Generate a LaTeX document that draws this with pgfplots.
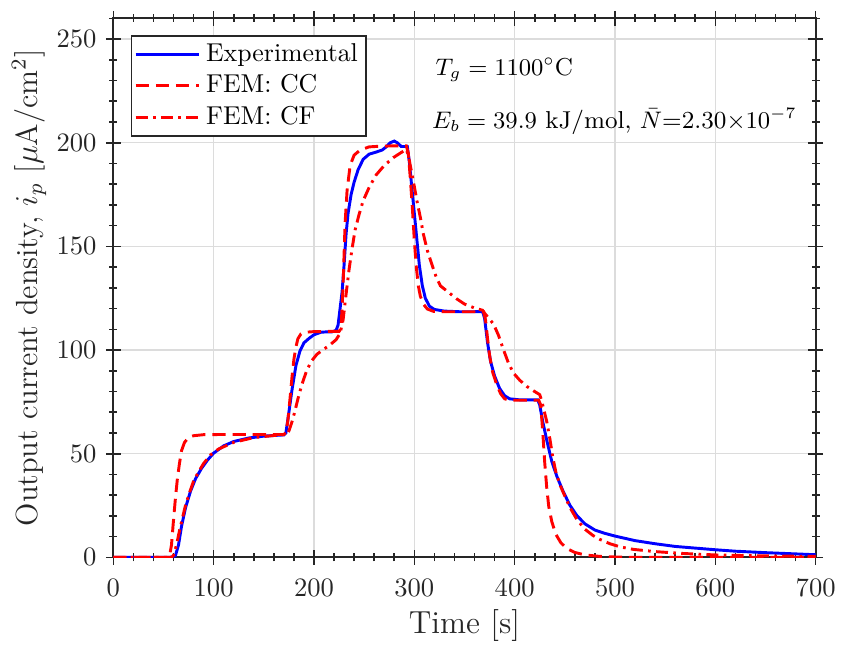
\documentclass[border=0pt]{standalone}
\usepackage{fontspec}
\usepackage{pgfplots}
\pgfplotsset{compat=1.18}
\pgfplotsset{
  /pgfplots/legend image code/.code={\draw[#1] plot coordinates {(0pt,0pt) (24pt,0pt)};}
}
\definecolor{axgray}{RGB}{38,38,38}
\definecolor{gridgray}{RGB}{220,220,220}
\begin{document}
\begin{tikzpicture}
\begin{axis}[
  scale only axis,
  width=264.1pt, height=202.7pt,
  xmin=0, xmax=700, ymin=0, ymax=260,
  xtick={0,100,...,700}, ytick={0,50,...,250},
  minor xtick={0,20,...,700}, minor ytick={0,10,...,260},
  tick align=center, tickpos=both,
  major tick length=5.6pt, minor tick length=3pt,
  every tick/.style={axgray, line width=0.6pt},
  axis line style={axgray, line width=0.75pt},
  grid=major,
  major grid style={gridgray, line width=0.5pt},
  tick label style={font=\fontsize{10}{12}\selectfont, text=axgray},
  xticklabel style={yshift=-2pt, inner xsep=0pt},
  xlabel={Time [s]},
  ylabel={Output current density, $i_p$ [$\mu$A/cm$^2$]},
  xlabel style={at={(axis description cs:0.5,-0.1411)}, anchor=base, inner sep=0pt,
    font=\fontsize{12}{14}\selectfont, text=axgray},
  ylabel style={at={(axis description cs:-0.1083,0.5)}, anchor=base, inner sep=0pt,
    font=\fontsize{11.5}{13}\selectfont, text=axgray},
  legend style={at={(rel axis cs:0.0247,0.969)}, anchor=north west,
    font=\fontsize{9.7}{11}\selectfont, draw=axgray, line width=0.6pt,
    inner xsep=1pt, inner ysep=1pt, row sep=-0.6pt,
    cells={anchor=west}},
  legend cell align=left,
]
\coordinate (sw) at (rel axis cs:0,0);
\coordinate (ne) at (rel axis cs:1,1);
\addplot[blue, line width=1.1pt] coordinates {
(0,0) (55,0) (60,0.3) (62,1) (65,6) (68,15) (72,24) (77,32) (82,38) (88,43) (94,47) (100,50.3) (110,53.8) (120,55.9) (135,57.6) (150,58.5) (170,59.1)
(172,60) (175,70) (178,80.5) (182,92.5) (186,99.5) (190,103.5) (195,105.6) (200,107.4) (207,108.6) (213,108.8) (218,108.8) (222,109.5)
(224,112) (226,120) (228,128) (230,141) (232,156) (234,166) (237,175) (240,181) (244,187) (249,192) (255,194.5) (262,195.5) (268,196.5) (272,198) (276,200) (280,200.8) (283,200) (287,198.2) (290,198.2) (293,198.2)
(295,191) (297,181) (299,171) (302,156) (305,141) (308,131) (311,125) (315,121.2) (320,119.6) (330,118.8) (345,118.5) (360,118.5) (368,118.6)
(370,115.5) (373,103.5) (376,94.5) (380,87.5) (385,81.5) (390,78) (395,76.5) (405,76) (415,76) (423,76)
(425,73.5) (428,65.5) (432,56.5) (437,46.3) (442,39.2) (448,32.2) (455,25.2) (462,20.2) (470,16.2) (480,13.2) (490,11.6) (500,10.3) (520,8.1) (540,6.6) (560,5.3) (580,4.5) (600,3.7) (620,3.0) (650,2.3) (680,1.7) (700,1.3)
};
\addlegendentry{Experimental}
\addplot[red, line width=1.1pt, dash pattern=on 5pt off 2.6pt] coordinates {
(0,0) (54,0) (56,0.5) (58,6) (60,18) (62,29) (64,38.5) (66,45.5) (68,51.5) (71,55.5) (75,57.8) (80,58.7) (90,59.2) (110,59.3) (140,59.3) (170,59.3)
(172,60.2) (174,66) (176,76) (178,86.5) (180,95.5) (182,101.5) (184,105.5) (187,107.8) (191,108.6) (200,108.9) (215,109) (225,109)
(227,110.5) (229,131) (231,161) (233,177) (236,189) (240,194) (246,196.5) (255,198) (265,198.3) (280,198.5) (292,198.5)
(294,195) (296,183) (298,169) (300,153) (302,140) (304,131) (306,126) (309,122.2) (313,119.8) (319,118.7) (330,118.5) (369,118.5)
(371,114.5) (373,105.5) (375,97.5) (378,89.5) (382,83.5) (386,79) (390,76.5) (395,75.8) (424,75.8)
(426,73.5) (428,60.5) (430,45.5) (432,33.5) (434,24.5) (437,17.3) (441,11.2) (446,7.1) (452,4.3) (460,2.4) (470,1.2) (485,0.5) (500,0.2) (520,0) (700,0)
};
\addlegendentry{FEM: CC}
\addplot[red, line width=1.1pt, dash pattern=on 4.5pt off 2pt on 1pt off 2pt] coordinates {
(0,0) (58,0) (60,1) (63,6) (66,13) (69,19.2) (72,25.2) (76,31.3) (80,36.8) (85,41.3) (90,45.3) (97,49.5) (105,52.3) (120,55.5) (140,57.8) (160,58.8) (173,59.3)
(175,61) (178,65.3) (181,70.5) (184,76.5) (188,83.5) (193,90.5) (198,95) (203,98) (210,100.5) (216,102.5) (222,105) (226,108)
(229,114.5) (232,127) (235,139) (238,149) (241,158) (245,165.5) (249,172) (255,178.5) (262,184.5) (270,189) (279,192.8) (286,195) (292,196.8)
(294,194) (296,189) (299,181.5) (303,171) (306,164) (309,156) (313,148) (317,142) (322,135) (326,131) (335,127.5) (342,124.8) (350,122.2) (360,120.3) (368,119.2)
(370,117.8) (374,115.5) (379,112.5) (384,107) (389,100) (394,93.5) (399,88.8) (405,85.5) (412,82.5) (420,80) (425,78.5)
(427,75.5) (429,71.5) (432,65.5) (435,57.5) (438,48.3) (441,41.3) (445,35.2) (449,30.7) (455,24.2) (462,18.3) (470,13.6) (478,10.6) (485,8.7) (495,6.6) (505,5.1) (518,3.9) (540,2.8) (568,1.9) (600,1.2) (640,0.8) (700,0.5)
};
\addlegendentry{FEM: CF}
\node[anchor=west, font=\fontsize{9.2}{11}\selectfont, text=black, inner sep=0pt] at (axis cs:320.6,235.4) {$T_g = 1100^\circ$C};
\node[anchor=west, font=\fontsize{9.2}{11}\selectfont, text=black, inner sep=0pt] at (axis cs:317.3,210.3) {$E_b = 39.9$ kJ/mol, $\bar{N}$=2.30$\times10^{-7}$};
\end{axis}
\path ([shift={(-42.6pt,-34.9pt)}]sw) rectangle ([shift={(9.9pt,6.9pt)}]ne);
\end{tikzpicture}
\end{document}
